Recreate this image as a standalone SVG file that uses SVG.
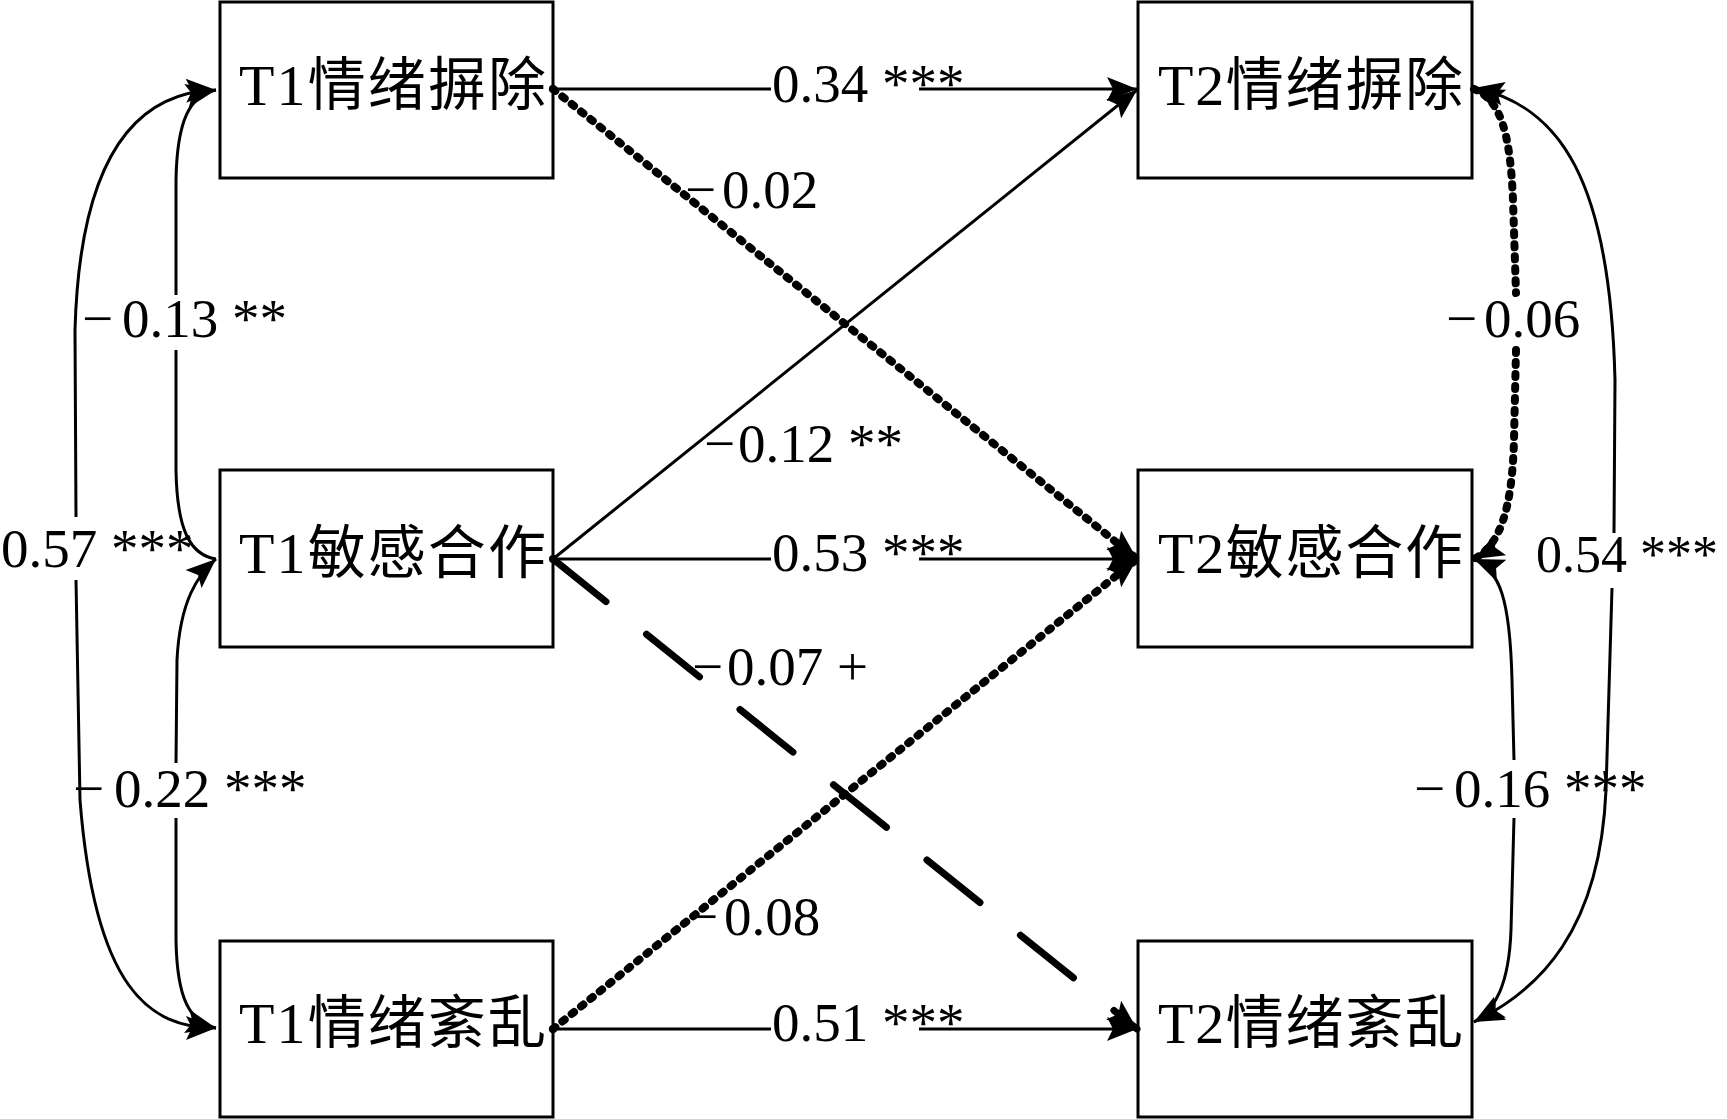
<svg xmlns="http://www.w3.org/2000/svg" width="1727" height="1119" viewBox="0 0 1727 1119">
  <style>
    .box { fill: #fff; stroke: #000; stroke-width: 3; }
    .nt { font-family: "Liberation Serif", "Noto Sans CJK SC", serif; font-size: 58px; fill: #000; }
    .lb { font-family: "Liberation Serif", "DejaVu Serif", serif; font-size: 55px; fill: #000; }
    .solid { fill: none; stroke: #000; stroke-width: 3; }
    .dot { fill: none; stroke: #000; stroke-width: 8; stroke-dasharray: 3 9; stroke-linecap: round; }
    .dash { fill: none; stroke: #000; stroke-width: 7; stroke-dasharray: 68 52; stroke-linecap: round; }
  </style>
  <defs>
    <marker id="ah" viewBox="-32 -14 34 28" refX="0" refY="0" markerWidth="34" markerHeight="28" markerUnits="userSpaceOnUse" orient="auto-start-reverse">
      <path d="M0,0 L-30,-12 L-24,0 L-30,12 Z" fill="#000"/>
    </marker>
  </defs>

  <rect width="1727" height="1119" fill="#fff"/>

  <g id="node-t1-detach">
    <rect class="box" x="220" y="2" width="333" height="176"/>
    <text class="nt" x="239" y="105" textLength="307" lengthAdjust="spacing">T1情绪摒除</text>
  </g>
  <g id="node-t1-sensitive">
    <rect class="box" x="220" y="470" width="333" height="177"/>
    <text class="nt" x="239" y="573" textLength="307" lengthAdjust="spacing">T1敏感合作</text>
  </g>
  <g id="node-t1-disorder">
    <rect class="box" x="220" y="941" width="333" height="176"/>
    <text class="nt" x="239" y="1043" textLength="307" lengthAdjust="spacing">T1情绪紊乱</text>
  </g>
  <g id="node-t2-detach">
    <rect class="box" x="1138" y="2" width="334" height="176"/>
    <text class="nt" x="1158" y="105" textLength="305" lengthAdjust="spacing">T2情绪摒除</text>
  </g>
  <g id="node-t2-sensitive">
    <rect class="box" x="1138" y="470" width="334" height="177"/>
    <text class="nt" x="1158" y="573" textLength="305" lengthAdjust="spacing">T2敏感合作</text>
  </g>
  <g id="node-t2-disorder">
    <rect class="box" x="1138" y="941" width="334" height="176"/>
    <text class="nt" x="1158" y="1043" textLength="305" lengthAdjust="spacing">T2情绪紊乱</text>
  </g>

  <g id="connectors">
    <!-- horizontal stability paths -->
    <path class="solid" d="M553,89 L771,89 M919,89 L1137,89" marker-end="url(#ah)"/>
    <path class="solid" d="M553,559 L771,559 M919,559 L1137,559" marker-end="url(#ah)"/>
    <path class="solid" d="M553,1029 L771,1029 M919,1029 L1137,1029" marker-end="url(#ah)"/>
    <!-- cross-lagged paths -->
    <path class="dot" d="M553,89 L1137,559" marker-end="url(#ah)"/>
    <path class="solid" d="M553,559 L1137,90" marker-end="url(#ah)"/>
    <path class="dash" d="M553,559 L1137,1029" marker-end="url(#ah)"/>
    <path class="dot" d="M553,1029 L1137,559" marker-end="url(#ah)"/>
    <circle cx="553" cy="89" r="4" fill="#000"/>
    <circle cx="553" cy="559" r="4" fill="#000"/>
    <circle cx="553" cy="1029" r="4" fill="#000"/>

    <!-- T1 correlations -->
    <path class="solid" d="M216,90 C140,92 80,150 75,330 L76,517 M76,580 L80,800 C95,990 150,1028 216,1028" marker-start="url(#ah)" marker-end="url(#ah)"/>
    <path class="solid" d="M216,90 C190,95 177,120 176,180 L176,295 M176,350 L176,470 C177,530 190,555 216,559" marker-start="url(#ah)"/>
    <path class="solid" d="M216,559 C198,575 180,600 177,660 L176,763 M176,818 L176,940 C177,1000 190,1022 216,1028" marker-start="url(#ah)" marker-end="url(#ah)"/>

    <!-- T2 residual correlations -->
    <path class="dot" d="M1474,89 C1500,100 1510,130 1513,200 L1516,293 M1516,350 L1514,440 C1512,510 1500,545 1474,559" marker-start="url(#ah)" marker-end="url(#ah)"/>
    <path class="solid" d="M1474,559 C1500,570 1510,600 1512,680 L1514,760 M1514,818 L1511,930 C1509,985 1495,1010 1474,1022" marker-start="url(#ah)" marker-end="url(#ah)"/>
    <path class="solid" d="M1474,88 C1560,105 1610,180 1615,380 L1614,533 M1612,588 L1606,790 C1600,930 1540,990 1474,1022" marker-start="url(#ah)" marker-end="url(#ah)"/>
  </g>

  <g id="labels">
    <text class="lb" x="772" y="102">0.34 ***</text>
    <text class="lb" x="772" y="571">0.53 ***</text>
    <text class="lb" x="772" y="1041">0.51 ***</text>
    <text class="lb" x="685" y="208">−<tspan dx="6">0.02</tspan></text>
    <text class="lb" x="704" y="462">−<tspan dx="3">0.12 **</tspan></text>
    <text class="lb" x="692" y="685">−<tspan dx="4">0.07 +</tspan></text>
    <text class="lb" x="687" y="935">−<tspan dx="6">0.08</tspan></text>
    <text class="lb" x="82" y="337">−<tspan dx="9">0.13 **</tspan></text>
    <text class="lb" x="73" y="807">−<tspan dx="10">0.22 ***</tspan></text>
    <text class="lb" x="1" y="567">0.57 ***</text>
    <text class="lb" x="1446" y="337">−<tspan dx="7">0.06</tspan></text>
    <text class="lb" x="1536" y="572" style="font-size:52px">0.54 ***</text>
    <text class="lb" x="1414" y="807">−<tspan dx="9">0.16 ***</tspan></text>
  </g>
</svg>
